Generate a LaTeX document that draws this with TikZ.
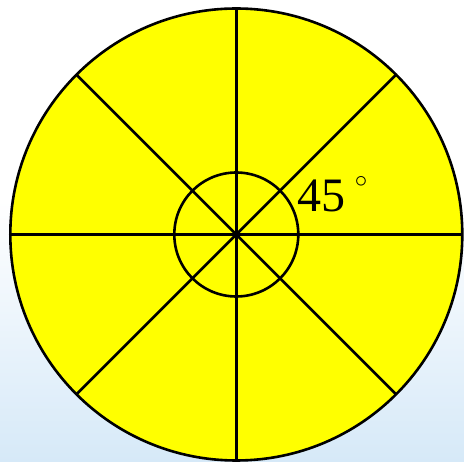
\documentclass[tikz,border=0pt]{standalone}
\usepackage{fontspec}
\setmainfont{Liberation Serif}
\usetikzlibrary{positioning}
\definecolor{discyellow}{RGB}{255,255,0}
\definecolor{slideblue}{RGB}{214,233,248}

\begin{document}
\begin{tikzpicture}[
  x=1pt,y=1pt,
  rim/.style={draw,line width=2.6pt,fill=discyellow},
  spoke/.style={draw,line width=2.6pt},
  anglelabel/.style={font=\fontsize{48}{52}\selectfont,inner sep=0pt,anchor=base west}]
\useasboundingbox (0,0) rectangle (464,-462);
\shade[top color=white,bottom color=slideblue] (0,-200) rectangle (464,-462);
\coordinate (O) at (236.3,-234.5);
\draw[rim] (O) circle[radius=226];
\foreach \a in {0,45,...,315}
  \draw[spoke] (O) -- ++(\a:226);
\draw[spoke] (O) circle[radius=62];
\node[anglelabel] (deg) at (297,-212) {45\hspace{0.2em}\raisebox{0.5em}{\fontsize{28}{28}\selectfont$\circ$}};
\end{tikzpicture}
\end{document}
